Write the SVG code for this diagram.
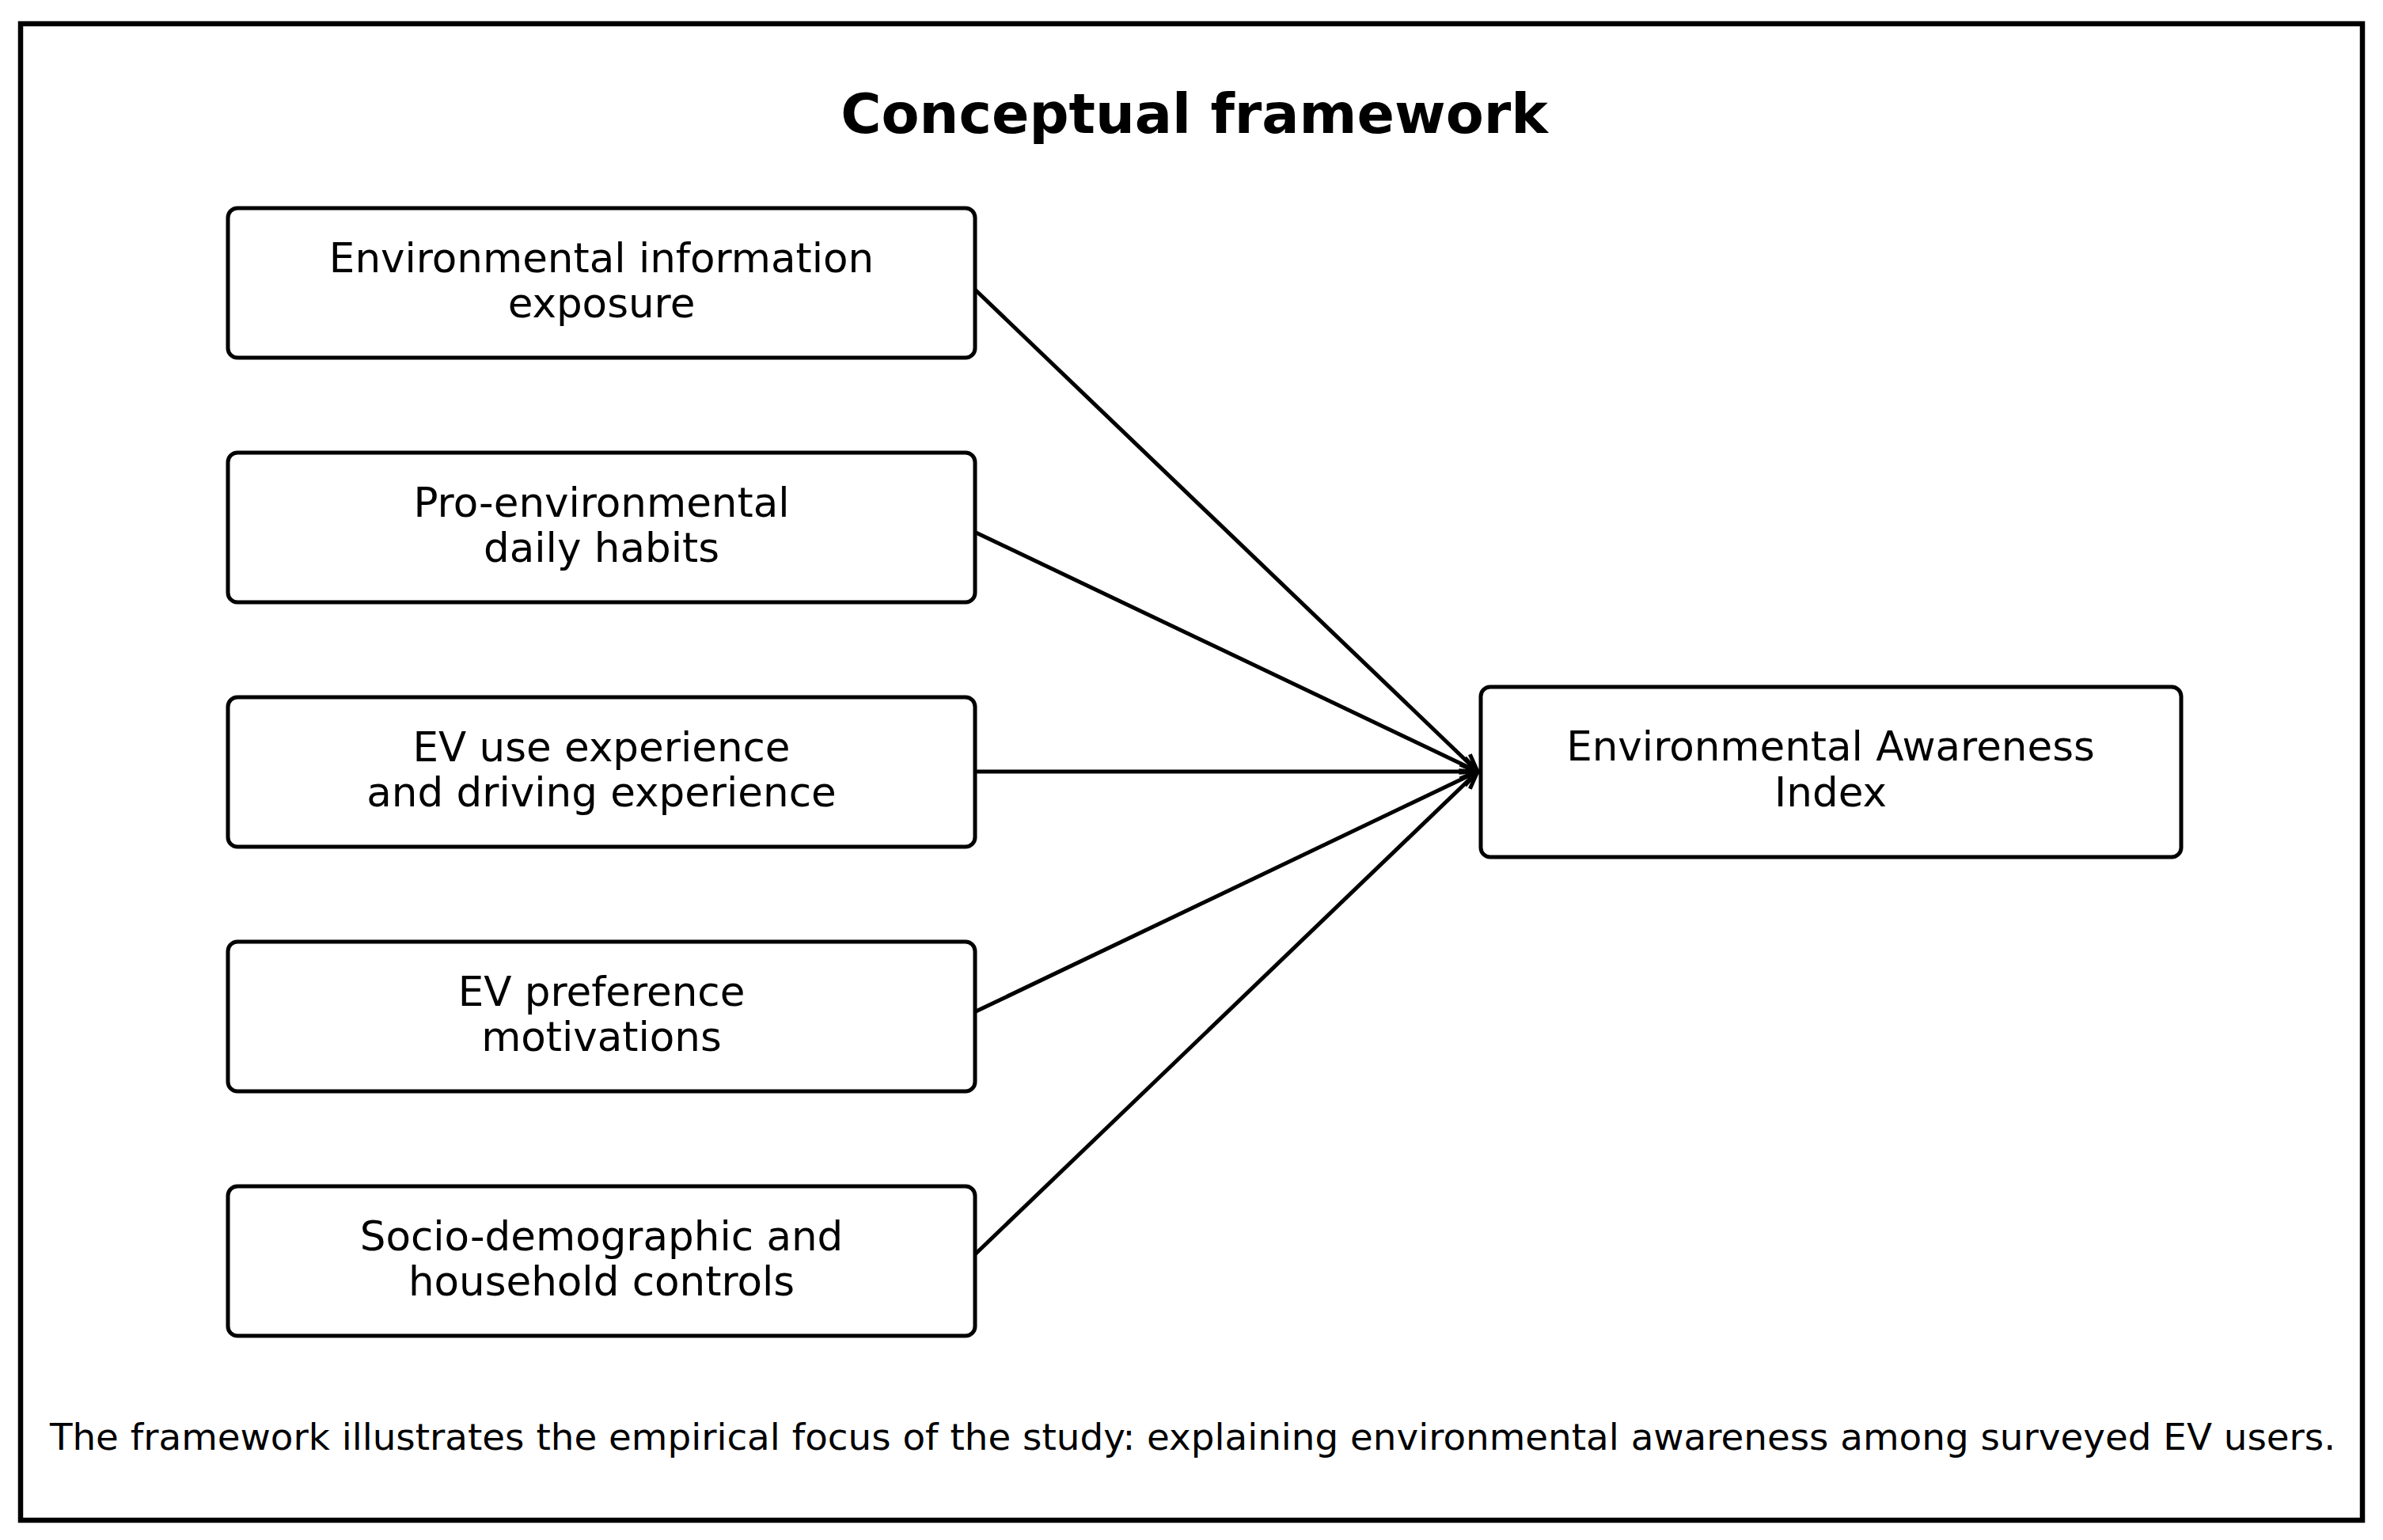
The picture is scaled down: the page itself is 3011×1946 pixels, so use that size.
<svg xmlns="http://www.w3.org/2000/svg" width="3011" height="1946" viewBox="0 0 3011 1946">
<style>
.box{fill:#fff;stroke:#000;stroke-width:5}
.lbl{font-family:"DejaVu Sans",Verdana,sans-serif;font-size:51.5px;fill:#000;text-anchor:middle}
.title{font-family:"DejaVu Sans",Verdana,sans-serif;font-size:70px;font-weight:bold;fill:#000;text-anchor:middle}
.cap{font-family:"DejaVu Sans",Verdana,sans-serif;font-size:46.8px;fill:#000;text-anchor:middle}
.edge{stroke:#000;stroke-width:5;fill:none;marker-end:url(#arr)}
</style>
<defs>
<marker id="arr" markerUnits="userSpaceOnUse" markerWidth="40" markerHeight="40" refX="0" refY="0" viewBox="-30 -20 40 40" orient="auto" overflow="visible">
<path d="M-22,-9 L0,0 L-22,9" fill="none" stroke="#000" stroke-width="5" stroke-linejoin="miter"/>
</marker>
</defs>
<rect x="0" y="0" width="3011" height="1946" fill="#fff"/>
<rect x="26" y="30" width="2959" height="1891" fill="none" stroke="#000" stroke-width="6.5"/>
<text class="title" x="1509" y="168">Conceptual framework</text>
<g id="connectors">
<line class="edge" x1="1231" y1="365" x2="1867" y2="975"/>
<line class="edge" x1="1231" y1="672" x2="1867" y2="975"/>
<line class="edge" x1="1231" y1="975" x2="1867" y2="975"/>
<line class="edge" x1="1231" y1="1279" x2="1867" y2="975"/>
<line class="edge" x1="1231" y1="1586" x2="1867" y2="975"/>
</g>
<g id="n1">
<rect class="box" x="288" y="263" width="944" height="189" rx="12"/>
<text class="lbl" x="760" y="344">Environmental information</text>
<text class="lbl" x="760" y="401">exposure</text>
</g>
<g id="n2">
<rect class="box" x="288" y="572" width="944" height="189" rx="12"/>
<text class="lbl" x="760" y="653">Pro-environmental</text>
<text class="lbl" x="760" y="710">daily habits</text>
</g>
<g id="n3">
<rect class="box" x="288" y="881" width="944" height="189" rx="12"/>
<text class="lbl" x="760" y="962">EV use experience</text>
<text class="lbl" x="760" y="1019">and driving experience</text>
</g>
<g id="n4">
<rect class="box" x="288" y="1190" width="944" height="189" rx="12"/>
<text class="lbl" x="760" y="1271">EV preference</text>
<text class="lbl" x="760" y="1328">motivations</text>
</g>
<g id="n5">
<rect class="box" x="288" y="1499" width="944" height="189" rx="12"/>
<text class="lbl" x="760" y="1580">Socio-demographic and</text>
<text class="lbl" x="760" y="1637">household controls</text>
</g>
<g id="target">
<rect class="box" x="1871" y="868" width="885" height="215" rx="12"/>
<text class="lbl" x="2313" y="961">Environmental Awareness</text>
<text class="lbl" x="2313" y="1019">Index</text>
</g>
<text class="cap" x="1507" y="1832">The framework illustrates the empirical focus of the study: explaining environmental awareness among surveyed EV users.</text>
</svg>
